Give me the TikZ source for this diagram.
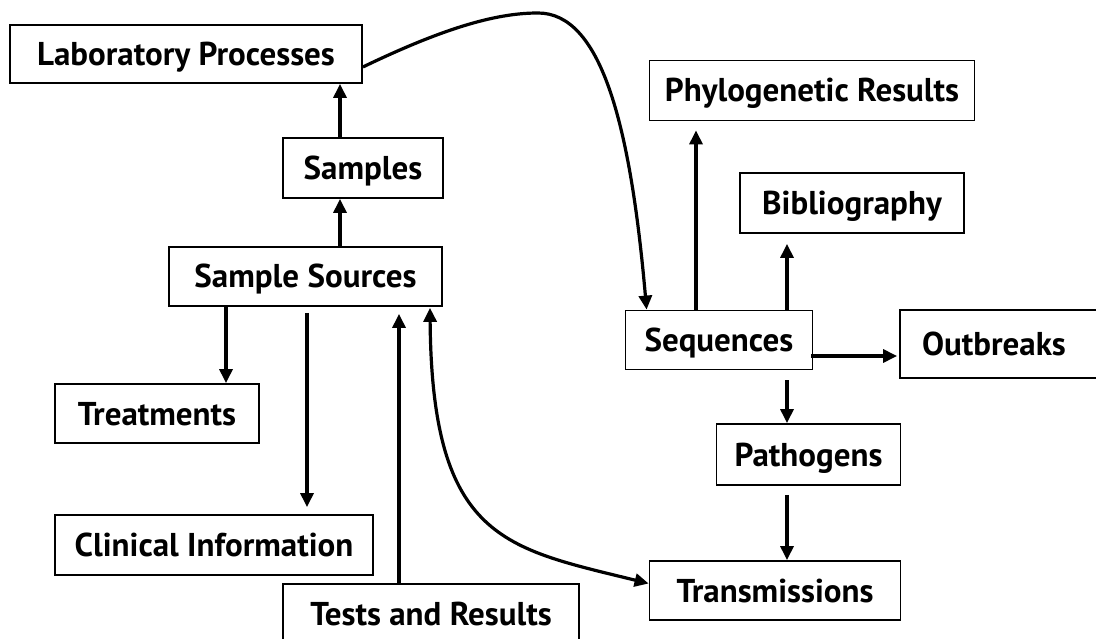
\documentclass[tikz,border=0pt]{standalone}
\usepackage{fontspec}
\setmainfont{PT Sans}
\usetikzlibrary{arrows.meta}
\tikzset{
  box/.style={draw, line width=1.8pt, inner sep=0pt, align=center, text height=23pt, text depth=0pt, font=\fontsize{33}{36}\selectfont\bfseries},
  arr/.style={line width=3.2pt, -{Triangle[length=14pt,width=13pt]}},
  darr/.style={line width=3.2pt, {Triangle[length=14pt,width=13pt]}-{Triangle[length=14pt,width=13pt]}}
}
\begin{document}
\begin{tikzpicture}[x=1pt,y=-1pt]
\useasboundingbox (0,0) rectangle (1096,639);
\node[box, minimum width=352pt, minimum height=58pt] (lab) at (186,54) {Laboratory Processes};
\node[box, minimum width=160pt, minimum height=60pt] (samples) at (363,168) {Samples};
\node[box, minimum width=273pt, minimum height=59pt] (sources) at (305.5,276.5) {Sample Sources};
\node[box, minimum width=204pt, minimum height=59pt] (treat) at (157,413.5) {Treatments};
\node[box, minimum width=318pt, minimum height=60pt] (clin) at (214,545) {Clinical Information};
\node[box, minimum width=296pt, minimum height=60pt] (tests) at (431,614) {Tests and Results};
\node[box, minimum width=325pt, minimum height=60pt] (phylo) at (812,90.5) {Phylogenetic Results};
\node[box, minimum width=224pt, minimum height=60pt] (bib) at (852,203) {Bibliography};
\node[box, minimum width=187pt, minimum height=59pt] (seq) at (719,340) {Sequences};
\node[box, minimum width=200pt, minimum height=68pt, text width=156pt, align=left] (outb) at (1000,344) {Outbreaks};
\node[box, minimum width=184pt, minimum height=61pt] (path) at (808.5,454.5) {Pathogens};
\node[box, minimum width=251pt, minimum height=59pt] (trans) at (775,590.5) {Transmissions};

\draw[arr] ([xshift=-23pt]samples.north) -- ([xshift=-23pt]samples.north |- lab.south);
\draw[arr] ([xshift=34.5pt]sources.north) -- ([xshift=-23pt]samples.south);
\draw[arr] ([xshift=-79.5pt]sources.south) -- ([xshift=-79.5pt]sources.south |- treat.north);
\draw[arr, shorten >=7pt] ([xshift=1.5pt,yshift=-6pt]sources.south) -- ([xshift=1.5pt]sources.south |- clin.north);
\draw[arr, shorten >=7pt] ([xshift=-32pt]tests.north) -- ([xshift=-32pt]tests.north |- sources.south);
\draw[darr] ([xshift=124.5pt,yshift=-1pt]sources.south) .. controls (432,540) and (505,548) .. ([yshift=7pt]trans.west);
\draw[arr] ([yshift=-13pt]lab.east) .. controls (450,25) and (500,13) .. (538,13)
   .. controls (600,13) and (630,120) .. ([xshift=22pt]seq.north west);
\draw[arr, shorten >=9pt] ([xshift=-23pt]seq.north) -- ([xshift=-23pt]seq.north |- phylo.south);
\draw[arr, shorten >=10pt] ([xshift=68pt]seq.north) -- ([xshift=68pt]seq.north |- bib.south);
\draw[arr] ([xshift=-2pt,yshift=-16pt]seq.east) -- ([xshift=-2pt,yshift=-16pt]seq.east -| outb.west);
\draw[arr] ([xshift=68pt,yshift=-10pt]seq.south) -- ([xshift=68pt]seq.south |- path.north);
\draw[arr] ([xshift=-21.5pt,yshift=-9pt]path.south) -- ([xshift=-21.5pt]path.south |- trans.north);
\end{tikzpicture}
\end{document}
